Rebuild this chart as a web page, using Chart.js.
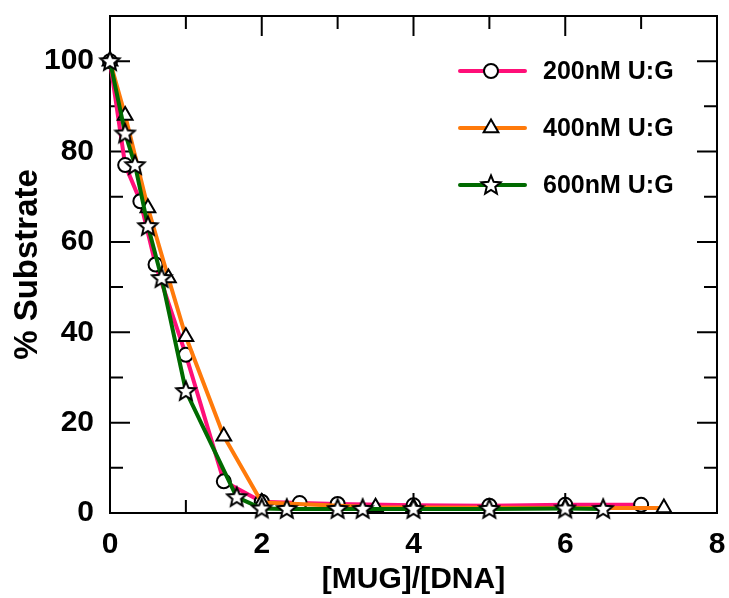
<!DOCTYPE html>
<html>
<head>
<meta charset="utf-8">
<script src="https://cdn.jsdelivr.net/npm/chart.js@4.4.0/dist/chart.umd.min.js"></script>
<style>
  html, body { margin: 0; padding: 0; background: #fff; }
  #wrap { width: 729px; height: 598px; }
</style>
</head>
<body>
<div id="wrap"><canvas id="mugChart" width="729" height="598"></canvas></div>
<script>
// data
const labels = ['200nM U:G', '400nM U:G', '600nM U:G'];
const colors = ['#ff0f78', '#ff7a0a', '#006a00'];

const x200 = [0, 0.2, 0.4, 0.6, 1, 1.5, 2, 2.5, 3, 4, 5, 6, 7];
const y200 = [100, 77, 69, 55, 35, 7, 2.5, 2.2, 2, 1.7, 1.6, 1.8, 1.8];

const x400 = [0, 0.2, 0.5, 0.77, 1, 1.5, 2, 3.5, 4, 6, 7.3];
const y400 = [100, 88, 67.5, 52, 39, 17, 2.3, 1.3, 1.2, 1.1, 1.1];

const x600 = [0, 0.2, 0.33, 0.5, 0.68, 1, 1.67, 2, 2.33, 3, 3.33, 4, 5, 6, 6.5];
const y600 = [100, 84, 77, 63.5, 52, 27, 3.5, 1, 0.9, 0.9, 0.9, 0.9, 0.9, 1, 0.9];

const xTicks = [0, 2, 4, 6, 8];
const yTicks = [0, 20, 40, 60, 80, 100];

const FONT = "'Liberation Sans', Arial, sans-serif";

function toPoints(xs, ys) {
  return xs.map((x, i) => ({ x: x, y: ys[i] }));
}

// five pointed star marker (Chart.js 'star' is an asterisk)
function makeStar(r) {
  const size = Math.ceil(r * 2 + 4);
  const c = document.createElement('canvas');
  c.width = size; c.height = size;
  const g = c.getContext('2d');
  const cx = size / 2, cy = size / 2 + 0.5;
  g.beginPath();
  for (let i = 0; i < 10; i++) {
    const rad = i % 2 === 0 ? r : r * 0.45;
    const a = -Math.PI / 2 + i * Math.PI / 5;
    const px = cx + rad * Math.cos(a), py = cy + rad * Math.sin(a);
    if (i === 0) g.moveTo(px, py); else g.lineTo(px, py);
  }
  g.closePath();
  g.fillStyle = '#fff';
  g.fill();
  g.lineWidth = 2;
  g.strokeStyle = '#000';
  g.lineJoin = 'miter';
  g.stroke();
  return c;
}
const starImg = makeStar(10);

const styles = ['circle', 'triangle', starImg];
const radii = [7, 8.5, 10];

// canvas point styles: draw the image itself
const origDraw = Chart.helpers.drawPoint;
Chart.helpers.drawPoint = function (ctx, options, x, y) {
  if (options.pointStyle instanceof HTMLCanvasElement) {
    const c = options.pointStyle;
    ctx.drawImage(c, x - c.width / 2, y - c.height / 2);
    return;
  }
  origDraw(ctx, options, x, y);
};

// inside ticks on all four sides, plus top/right frame
const frameTicks = {
  id: 'frameTicks',
  beforeDatasetsDraw(chart) {
    const { ctx, chartArea: a, scales } = chart;
    ctx.save();
    ctx.strokeStyle = '#000';
    ctx.lineWidth = 2;
    ctx.strokeRect(a.left, a.top, a.right - a.left, a.bottom - a.top);
    for (let v = 1; v < 8; v++) {
      const len = v % 2 === 0 ? 20 : 13;
      const px = scales.x.getPixelForValue(v);
      ctx.beginPath();
      ctx.moveTo(px, a.bottom); ctx.lineTo(px, a.bottom - len);
      ctx.moveTo(px, a.top); ctx.lineTo(px, a.top + len);
      ctx.stroke();
    }
    for (let v = 10; v <= 100; v += 10) {
      const len = v % 20 === 0 ? 20 : 13;
      const py = scales.y.getPixelForValue(v);
      ctx.beginPath();
      ctx.moveTo(a.left, py); ctx.lineTo(a.left + len, py);
      ctx.moveTo(a.right, py); ctx.lineTo(a.right - len, py);
      ctx.stroke();
    }
    ctx.restore();
  }
};

// legend with line + marker, inside top right
const lineLegend = {
  id: 'lineLegend',
  afterDraw(chart) {
    const ctx = chart.ctx;
    ctx.save();
    labels.forEach((lab, i) => {
      const y = 71 + i * 57;
      ctx.strokeStyle = colors[i];
      ctx.lineWidth = 4;
      ctx.lineCap = 'round';
      ctx.beginPath();
      ctx.moveTo(460, y); ctx.lineTo(525, y);
      ctx.stroke();
      ctx.fillStyle = '#fff';
      ctx.strokeStyle = '#000';
      ctx.lineWidth = 2;
      Chart.helpers.drawPoint(ctx, {
        pointStyle: styles[i], radius: radii[i], rotation: 0, borderWidth: 2
      }, 491, y);
      ctx.fillStyle = '#000';
      ctx.font = 'bold 25px ' + FONT;
      ctx.textBaseline = 'middle';
      ctx.textAlign = 'left';
      ctx.fillText(lab, 543, y + 1);
    });
    ctx.restore();
  }
};

function ds(i, xs, ys) {
  return {
    label: labels[i],
    data: toPoints(xs, ys),
    borderColor: colors[i],
    backgroundColor: '#fff',
    borderWidth: 4,
    tension: 0,
    showLine: true,
    pointStyle: styles[i],
    pointRadius: radii[i],
    pointBackgroundColor: '#fff',
    pointBorderColor: '#000',
    pointBorderWidth: 2,
    clip: false
  };
}

new Chart(document.getElementById('mugChart').getContext('2d'), {
  type: 'scatter',
  data: {
    datasets: [
      ds(2, x600, y600),
      ds(1, x400, y400),
      ds(0, x200, y200)
    ].map((d, i) => Object.assign(d, { order: i }))
  },
  options: {
    responsive: false,
    animation: false,
    events: [],
    layout: { padding: { top: 16, right: 10, left: 8, bottom: 0 } },
    plugins: { legend: { display: false }, tooltip: { enabled: false } },
    scales: {
      x: {
        type: 'linear', min: 0, max: 8,
        afterBuildTicks: s => { s.ticks = xTicks.map(v => ({ value: v })); },
        afterFit: s => { s.height = 85; s.paddingLeft = 0; s.paddingRight = 0; },
        grid: { display: false },
        border: { display: true, color: '#000', width: 2 },
        ticks: { color: '#000', padding: 6, font: { family: FONT, size: 30, weight: 'bold' } },
        title: {
          display: true, text: '[MUG]/[DNA]', color: '#000',
          padding: { top: 2, bottom: 0 },
          font: { family: FONT, size: 30, weight: 'bold' }
        }
      },
      y: {
        type: 'linear', min: 0, max: 110,
        afterBuildTicks: s => { s.ticks = yTicks.map(v => ({ value: v })); },
        afterFit: s => { s.width = 102; s.paddingTop = 0; s.paddingBottom = 0; },
        grid: { display: false },
        border: { display: true, color: '#000', width: 2 },
        ticks: { color: '#000', padding: 8, font: { family: FONT, size: 30, weight: 'bold' } },
        title: {
          display: true, text: '% Substrate', color: '#000',
          padding: { top: 0, bottom: 4 },
          font: { family: FONT, size: 33, weight: 'bold' }
        }
      }
    }
  },
  plugins: [frameTicks, lineLegend]
});
</script>
</body>
</html>
